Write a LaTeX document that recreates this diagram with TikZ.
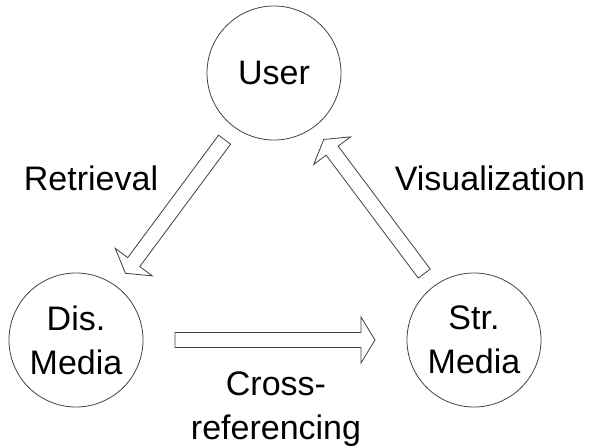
\documentclass[tikz,border=0pt]{standalone}
\usepackage{fontspec}
\setmainfont{Liberation Sans}
\usetikzlibrary{calc}
\newcommand\blockarrow[3]{%
  \path ($(#1)!#3!(#2)$) coordinate (ba-a)
        ($(#2)!#3!(#1)$) coordinate (ba-b)
        ($(ba-b)!14pt!(ba-a)$) coordinate (ba-h);
  \draw[arrowline] ($(ba-a)!7.5pt!90:(ba-b)$) -- ($(ba-h)!7.5pt!90:(ba-b)$)
    -- ($(ba-h)!23pt!90:(ba-b)$) -- (ba-b) -- ($(ba-h)!23pt!-90:(ba-b)$)
    -- ($(ba-h)!7.5pt!-90:(ba-b)$) -- ($(ba-a)!7.5pt!-90:(ba-b)$) -- cycle;}
\tikzset{
  arrowline/.style={draw=black!75, line width=0.8pt, line join=miter, fill=white},
  circ/.style={circle, draw=black!75, line width=0.8pt, minimum size=134pt, inner sep=0pt,
    align=center, font=\fontsize{34}{44}\selectfont},
  lbl/.style={font=\fontsize{34}{44}\selectfont, align=center, inner sep=0pt}
}
\begin{document}
\begin{tikzpicture}[x=1pt,y=-1pt]
\useasboundingbox (0,0) rectangle (589,445);
\node[circ] (user) at (274,73) {User};
\node[circ] (dis) at (76,340) {Dis.\\Media};
\node[circ] (str) at (474,340) {Str.\\Media};
\blockarrow{user.center}{dis.center}{83pt}
\blockarrow{dis.center}{str.center}{99pt}
\blockarrow{str.center}{user.center}{83pt}
\node[lbl, anchor=base] (retr) at (91,190) {Retrieval};
\node[lbl, anchor=base] (vis) at (490,190) {Visualization};
\node[lbl, anchor=base] (cross) at (276,395) {Cross-};
\node[lbl, anchor=base] (refr) at (276,439) {referencing};
\end{tikzpicture}
\end{document}
